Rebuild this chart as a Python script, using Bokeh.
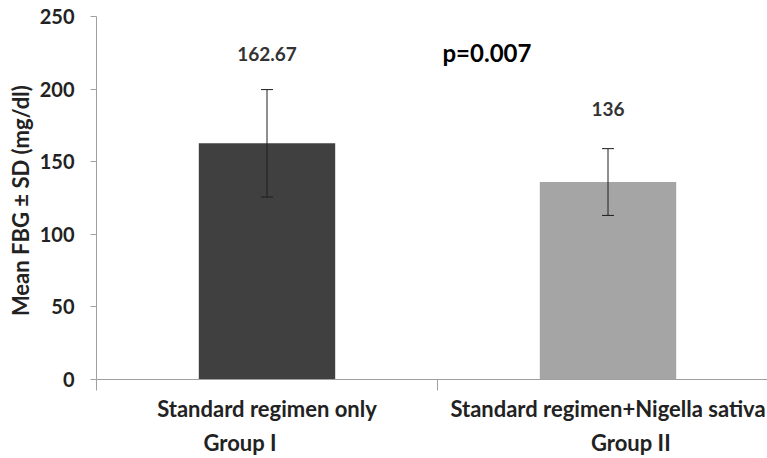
from bokeh.plotting import figure
from bokeh.models import (Range1d, LinearAxis, FixedTicker, Whisker, TeeHead,
                          ColumnDataSource, Label)
from bokeh.core.properties import value
from bokeh.embed import file_html
from bokeh.resources import INLINE

# ---- data ----
categories = ["Standard regimen only", "Standard regimen+Nigella sativa"]
groups = ["Group I", "Group II"]
means = [162.67, 136]
sds = [37, 23]
mean_labels = ["162.67", "136"]
p_value_text = "p=0.007"
y_ticks = [0, 50, 100, 150, 200, 250]
y_label = "Mean FBG \u00b1 SD  (mg/dl)"

# ---- style ----
FONT = "Lato"
bar_colors = ["#404040", "#a5a5a5"]
label_offsets = [-36, -40]          # px above the error-bar top
group_shift_px = [-27, 23]          # group labels are offset from the category centre
PX_PER_UNIT = 341
W, H = 767, 458
LEFT, TOP, BOTTOM = 96, 16, 77
AXIS_GREY = "#a0a0a0"
ERR_COLOR = "#1e1e1e"

xs = [i + 0.5 for i in range(len(categories))]
x_end = (W - LEFT) / PX_PER_UNIT

src = ColumnDataSource(dict(
    x=xs, mean=means,
    upper=[m + s for m, s in zip(means, sds)],
    lower=[m - s for m, s in zip(means, sds)],
    label=mean_labels, color=bar_colors, off=label_offsets,
))

p = figure(width=W, height=H, x_range=Range1d(0, x_end), y_range=Range1d(0, 250),
           output_backend="svg", toolbar_location=None,
           min_border_left=LEFT, min_border_top=TOP, min_border_right=0,
           min_border_bottom=BOTTOM, x_axis_location=None)
p.outline_line_color = None
p.grid.visible = False
p.background_fill_color = "white"
p.border_fill_color = "white"

p.vbar(x="x", top="mean", bottom=0, width=0.4, fill_color="color",
       line_color=None, source=src)

p.add_layout(Whisker(base="x", upper="upper", lower="lower", source=src,
                     level="annotation",
                     line_color=ERR_COLOR, line_width=1,
                     upper_head=TeeHead(size=12, line_color=ERR_COLOR, line_width=1),
                     lower_head=TeeHead(size=12, line_color=ERR_COLOR, line_width=1)))

p.text(x="x", y="upper", text="label", y_offset="off", source=src,
       text_align="center", text_baseline="middle",
       text_font=value(FONT), text_font_style="bold", text_font_size="19px",
       text_color="#333333")

p.add_layout(Label(x=1.145, y=225, text=p_value_text, text_align="center",
                   text_baseline="middle", text_font=FONT, text_font_style="bold",
                   text_font_size="24px", text_color="#000000"))

# y axis
ya = p.yaxis[0]
ya.ticker = FixedTicker(ticks=y_ticks)
ya.axis_line_color = AXIS_GREY
ya.major_tick_line_color = AXIS_GREY
ya.major_tick_out = 6
ya.major_tick_in = 0
ya.minor_tick_line_color = None
ya.major_label_standoff = 16
ya.major_label_text_font = FONT
ya.major_label_text_font_style = "bold"
ya.major_label_text_font_size = "20px"
ya.major_label_text_color = "#222222"
ya.axis_label = y_label
ya.axis_label_text_font = FONT
ya.axis_label_text_font_style = "bold"
ya.axis_label_text_font_size = "22px"
ya.axis_label_text_color = "#222222"
ya.axis_label_standoff = 3

# x axis with category labels and boundary ticks
xa = LinearAxis(ticker=FixedTicker(ticks=xs, minor_ticks=[0, 1, 2]))
xa.major_label_overrides = {x: c for x, c in zip(xs, categories)}
xa.axis_line_color = AXIS_GREY
xa.major_tick_line_color = None
xa.major_tick_out = 0
xa.major_tick_in = 0
xa.minor_tick_line_color = AXIS_GREY
xa.minor_tick_out = 11
xa.minor_tick_in = 0
xa.major_label_standoff = 4
xa.major_label_text_font = FONT
xa.major_label_text_font_style = "bold"
xa.major_label_text_font_size = "22px"
xa.major_label_text_color = "#222222"
p.add_layout(xa, "below")

# second row: group names
gpos = [round(x + s / PX_PER_UNIT, 3) for x, s in zip(xs, group_shift_px)]
ga = LinearAxis(ticker=FixedTicker(ticks=gpos, minor_ticks=[]))
ga.major_label_overrides = {x: g for x, g in zip(gpos, groups)}
ga.axis_line_color = None
ga.major_tick_line_color = None
ga.minor_tick_line_color = None
ga.major_tick_out = 0
ga.major_tick_in = 0
ga.minor_tick_out = 0
ga.major_label_standoff = 4
ga.major_label_text_font = FONT
ga.major_label_text_font_style = "bold"
ga.major_label_text_font_size = "22px"
ga.major_label_text_color = "#222222"
p.add_layout(ga, "below")

open("out.html", "w").write(file_html(p, INLINE))
